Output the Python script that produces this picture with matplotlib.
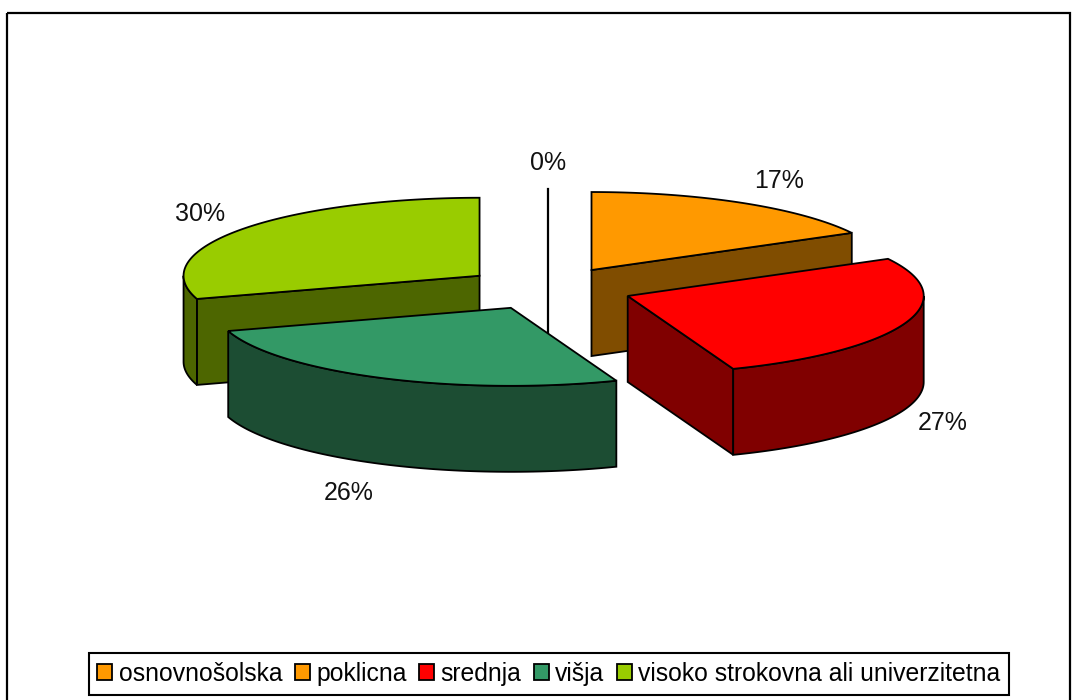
import numpy as np
import matplotlib
matplotlib.use('Agg')
import matplotlib.pyplot as plt
from matplotlib.patches import Polygon, Rectangle

plt.rcParams['font.family'] = ['Liberation Sans', 'DejaVu Sans']

# podatki
kategorije = ['osnovnošolska', 'poklicna', 'srednja', 'višja', 'visoko strokovna ali univerzitetna']
deleži = [0.0, 17.1, 27.1, 26.0, 29.8]
barve = ['#FF9900', '#FF9900', '#FF0000', '#339966', '#99CC00']
barve_stranic = ['#804D00', '#804D00', '#800000', '#1C4D33', '#4D6600']
poz_oznak = [(548, 163), (779, 181), (943, 423), (349, 493), (200, 214)]

# geometrija "3D" torte (v pikslih)
cx, cy = 548, 288.5
rx, ry = 296, 78
globina = 86
eks_x, eks_y = 85, 21.5

fig = plt.figure(figsize=(10.78, 7), dpi=100)
ax = fig.add_axes([0, 0, 1, 1])
ax.set_xlim(0, 1078)
ax.set_ylim(700, 0)
ax.axis('off')

ax.add_patch(Rectangle((7, 13), 1063, 720, fill=False, edgecolor='black', linewidth=1.6))


def rob(t, x0, y0):
    return np.column_stack([x0 + rx * np.sin(t), y0 - ry * np.cos(t)])


def stena(tocke, barva, z):
    spodaj = tocke[::-1] + [0, globina]
    ax.add_patch(Polygon(np.vstack([tocke, spodaj]), closed=True, facecolor=barva,
                         edgecolor='black', linewidth=1.3, joinstyle='miter', zorder=z))


# kote po rezinah, od vrha v smeri urinega kazalca
meje = np.radians(np.cumsum([0] + deleži) * 3.6)
rezine = []
for i in range(len(deleži)):
    t0, t1 = meje[i], meje[i + 1]
    sred = (t0 + t1) / 2
    x0 = cx + eks_x * np.sin(sred)
    y0 = cy - eks_y * np.cos(sred)
    rezine.append((i, t0, t1, x0, y0))

# vrstni red risanja: zadaj -> spredaj
for z, (i, t0, t1, x0, y0) in enumerate([rezine[j] for j in (4, 0, 1, 2, 3)]):
    z = z * 10 + 2
    if deleži[i] == 0:
        ax.plot([x0, x0], [y0 - ry, y0 + globina], color='black', linewidth=1.6, zorder=z)
        continue
    apex = np.array([[x0, y0]])
    # stranski steni, le tisti obrnjeni proti gledalcu
    if np.sin(t0) < -1e-6:
        stena(np.vstack([apex, rob(np.array([t0]), x0, y0)]), barve_stranic[i], z)
    if np.sin(t1) > 1e-6:
        stena(np.vstack([apex, rob(np.array([t1]), x0, y0)]), barve_stranic[i], z)
    # zunanji plašč (sprednja polovica)
    a, b = max(t0, np.pi / 2), min(t1, 3 * np.pi / 2)
    if b > a:
        stena(rob(np.linspace(a, b, 80), x0, y0), barve_stranic[i], z + 1)
    # zgornja ploskev
    vrh = np.vstack([apex, rob(np.linspace(t0, t1, 120), x0, y0)])
    ax.add_patch(Polygon(vrh, closed=True, facecolor=barve[i], edgecolor='black',
                         linewidth=1.3, joinstyle='miter', zorder=z + 2))

for d, (x, y) in zip(deleži, poz_oznak):
    ax.text(x, y, f'{d:.0f}%', ha='center', va='center', fontsize=18, color='#111111', zorder=100)

# legenda
rocaji = [Rectangle((0, 0), 1, 1, facecolor=b, edgecolor='black', linewidth=1.3) for b in barve]
leg = ax.legend(rocaji, kategorije, ncol=5, loc='center', bbox_to_anchor=(549 / 1078, 1 - 674 / 700),
                fontsize=17.8, frameon=True, fancybox=False, framealpha=1, edgecolor='black',
                handlelength=0.6, handleheight=0.6, handletextpad=0.27, columnspacing=0.5,
                borderpad=0.35, borderaxespad=0)
leg.get_frame().set_linewidth(1.5)
leg.set_zorder(200)

fig.savefig('out.png', dpi=100, facecolor='white')
